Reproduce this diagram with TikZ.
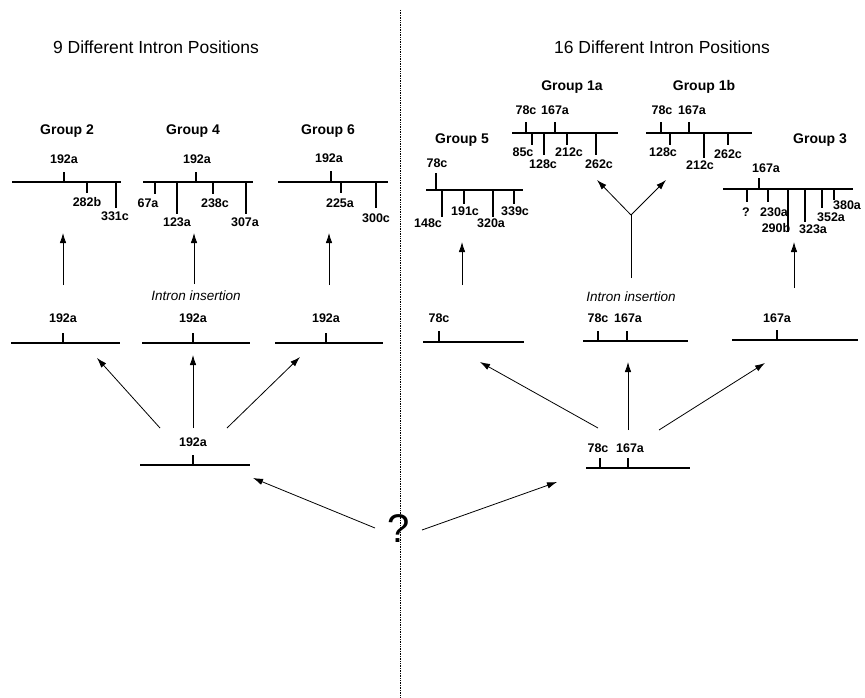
\documentclass[tikz,border=0pt]{standalone}
\usepackage{fontspec}
\setmainfont{Liberation Sans}
\usetikzlibrary{arrows.meta}
\begin{document}
\begin{tikzpicture}[x=1pt,y=-1pt,
  gene/.style={line width=1.8pt},
  tk/.style={line width=1.4pt},
  lab/.style={font=\bfseries\fontsize{12.5}{12.5}\selectfont, inner sep=0pt},
  grp/.style={font=\bfseries\fontsize{14}{14}\selectfont, inner sep=0pt},
  ttl/.style={font=\fontsize{17.5}{18}\selectfont, inner sep=0pt},
  ins/.style={font=\itshape\fontsize{13.5}{14}\selectfont, inner sep=0pt},
  qm/.style={font=\fontsize{40}{40}\selectfont, inner sep=0pt},
  arr/.style={-{Latex[length=10pt,width=6.5pt]}, line width=0.8pt},
  divider/.style={densely dotted, line width=0.7pt}]
\useasboundingbox (0,0) rectangle (865,698);

% titles and divider
\node[ttl] (t1) at (156,47) {9 Different Intron Positions};
\node[ttl] (t2) at (662,47) {16 Different Intron Positions};
\coordinate (dtop) at (400,10);
\coordinate (dbot) at (400,698);
\draw[divider] (dtop) -- (dbot);

% group titles
\node[grp] (g2) at (67,131) {Group 2};
\node[grp] (g4) at (193,131) {Group 4};
\node[grp] (g6) at (328,131) {Group 6};
\node[grp] (g5) at (462,140) {Group 5};
\node[grp] (g1a) at (572,87) {Group 1a};
\node[grp] (g1b) at (704,87) {Group 1b};
\node[grp] (g3) at (820,140) {Group 3};

% ---------- Group 2
\draw[gene] (12,182) -- (121,182);
\draw[tk] (64,182) -- (64,172);  \node[lab] (g2a) at (64,159) {192a};
\draw[tk] (87,182) -- (87,193);  \node[lab] (g2b) at (87,202) {282b};
\draw[tk] (116,182) -- (116,208); \node[lab] (g2c) at (115,216) {331c};

% ---------- Group 4
\draw[gene] (143,182) -- (253,182);
\draw[tk] (196,182) -- (196,172); \node[lab] (g4a) at (197,159) {192a};
\draw[tk] (155,182) -- (155,194); \node[lab] (g4b) at (148,203) {67a};
\draw[tk] (177,182) -- (177,214); \node[lab] (g4c) at (177,222) {123a};
\draw[tk] (213,182) -- (213,194); \node[lab] (g4d) at (215,203) {238c};
\draw[tk] (246,182) -- (246,214); \node[lab] (g4e) at (245,222) {307a};

% ---------- Group 6
\draw[gene] (278,182) -- (388,182);
\draw[tk] (331,182) -- (331,171); \node[lab] (g6a) at (329,158) {192a};
\draw[tk] (341,182) -- (341,193); \node[lab] (g6b) at (340,203) {225a};
\draw[tk] (376,182) -- (376,208); \node[lab] (g6c) at (376,218) {300c};

% ---------- Group 5
\draw[gene] (426,190) -- (523,190);
\draw[tk] (436,190) -- (436,173); \node[lab] (g5a) at (437,163) {78c};
\draw[tk] (442,190) -- (442,217); \node[lab] (g5b) at (428,223) {148c};
\draw[tk] (464,190) -- (464,204); \node[lab] (g5c) at (465,211) {191c};
\draw[tk] (493,190) -- (493,217); \node[lab] (g5d) at (491,223) {320a};
\draw[tk] (514,190) -- (514,204); \node[lab] (g5e) at (515,211) {339c};

% ---------- Group 1a
\draw[gene] (512,133) -- (618,133);
\draw[tk] (526,133) -- (526,122); \node[lab] (g1aa) at (526,110) {78c};
\draw[tk] (555,133) -- (555,122); \node[lab] (g1ab) at (555,110) {167a};
\draw[tk] (532,133) -- (532,145); \node[lab] (g1ac) at (523,152) {85c};
\draw[tk] (544,133) -- (544,155); \node[lab] (g1ad) at (543,164) {128c};
\draw[tk] (567,133) -- (567,145); \node[lab] (g1ae) at (569,152) {212c};
\draw[tk] (596,133) -- (596,155); \node[lab] (g1af) at (599,164) {262c};

% ---------- Group 1b
\draw[gene] (646,133) -- (752,133);
\draw[tk] (661,133) -- (661,122); \node[lab] (g1ba) at (662,110) {78c};
\draw[tk] (689,133) -- (689,122); \node[lab] (g1bb) at (692,110) {167a};
\draw[tk] (670,133) -- (670,145); \node[lab] (g1bc) at (663,152) {128c};
\draw[tk] (704,133) -- (704,158); \node[lab] (g1bd) at (700,165) {212c};
\draw[tk] (728,133) -- (728,145); \node[lab] (g1be) at (728,154) {262c};

% ---------- Group 3
\draw[gene] (723,189) -- (853,189);
\draw[tk] (759,189) -- (759,178); \node[lab] (g3a) at (766,168) {167a};
\draw[tk] (747,189) -- (747,202); \node[lab] (g3b) at (746,212) {?};
\draw[tk] (768,189) -- (768,202); \node[lab] (g3c) at (774,212) {230a};
\draw[tk] (788,189) -- (788,232); \node[lab] (g3d) at (776,228) {290b};
\draw[tk] (805,189) -- (805,222); \node[lab] (g3e) at (813,229) {323a};
\draw[tk] (822,189) -- (822,208); \node[lab] (g3f) at (831,217) {352a};
\draw[tk] (834,189) -- (834,200); \node[lab] (g3g) at (847,205) {380a};

% ---------- insertion arrows
\coordinate (a2s) at (63,285);  \coordinate (a2e) at (63,233);
\coordinate (a4s) at (194,284); \coordinate (a4e) at (194,233);
\coordinate (a6s) at (329,285); \coordinate (a6e) at (329,233);
\coordinate (a5s) at (462,285); \coordinate (a5e) at (462,242);
\coordinate (a3s) at (794,288); \coordinate (a3e) at (794,242);
\draw[arr] (a2s) -- (a2e);
\draw[arr] (a4s) -- (a4e);
\draw[arr] (a6s) -- (a6e);
\draw[arr] (a5s) -- (a5e);
\draw[arr] (a3s) -- (a3e);
\node[ins] (insL) at (196,296) {Intron insertion};
\node[ins] (insR) at (631,297) {Intron insertion};

% Y connector
\coordinate (ys) at (631,278);
\coordinate (yj) at (631,215);
\coordinate (yl) at (597,180);
\coordinate (yr) at (666,180);
\draw[line width=0.8pt] (ys) -- (yj);
\draw[arr] (yj) -- (yl);
\draw[arr] (yj) -- (yr);

% ---------- middle row left
\draw[gene] (11,343) -- (120,343);
\draw[tk] (63,343) -- (63,333); \node[lab] (m1) at (63,318) {192a};
\draw[gene] (142,343) -- (250,343);
\draw[tk] (193,343) -- (193,333); \node[lab] (m2) at (193,318) {192a};
\draw[gene] (275,343) -- (383,343);
\draw[tk] (326,343) -- (326,333); \node[lab] (m3) at (326,318) {192a};

% ---------- middle row right
\draw[gene] (423,342) -- (524,342);
\draw[tk] (439,342) -- (439,331); \node[lab] (m4) at (439,318) {78c};
\draw[gene] (583,341) -- (688,341);
\draw[tk] (598,341) -- (598,331); \node[lab] (m5) at (598,318) {78c};
\draw[tk] (627,341) -- (627,331); \node[lab] (m6) at (628,318) {167a};
\draw[gene] (732,340) -- (858,340);
\draw[tk] (777,340) -- (777,330); \node[lab] (m7) at (777,318) {167a};

% ---------- bottom ancestors
\draw[gene] (140,465) -- (250,465);
\draw[tk] (193,465) -- (193,455); \node[lab] (b1) at (193,442) {192a};
\draw[gene] (586,468) -- (690,468);
\draw[tk] (600,468) -- (600,458); \node[lab] (b2) at (598,448) {78c};
\draw[tk] (628,468) -- (628,458); \node[lab] (b3) at (630,448) {167a};

% arrows from left ancestor
\coordinate (l1s) at (160,428); \coordinate (l1e) at (97,358);
\coordinate (l2s) at (193,428); \coordinate (l2e) at (193,355);
\coordinate (l3s) at (227,428); \coordinate (l3e) at (300,357);
\draw[arr] (l1s) -- (l1e);
\draw[arr] (l2s) -- (l2e);
\draw[arr] (l3s) -- (l3e);

% arrows from right ancestor
\coordinate (r1s) at (598,428); \coordinate (r1e) at (480,362);
\coordinate (r2s) at (628,430); \coordinate (r2e) at (628,362);
\coordinate (r3s) at (659,430); \coordinate (r3e) at (765,363);
\draw[arr] (r1s) -- (r1e);
\draw[arr] (r2s) -- (r2e);
\draw[arr] (r3s) -- (r3e);

% question mark
\node[qm] (q) at (399,529) {?};
\coordinate (q1s) at (375,528); \coordinate (q1e) at (253,478);
\coordinate (q2s) at (422,530); \coordinate (q2e) at (557,482);
\draw[arr] (q1s) -- (q1e);
\draw[arr] (q2s) -- (q2e);
\end{tikzpicture}
\end{document}
